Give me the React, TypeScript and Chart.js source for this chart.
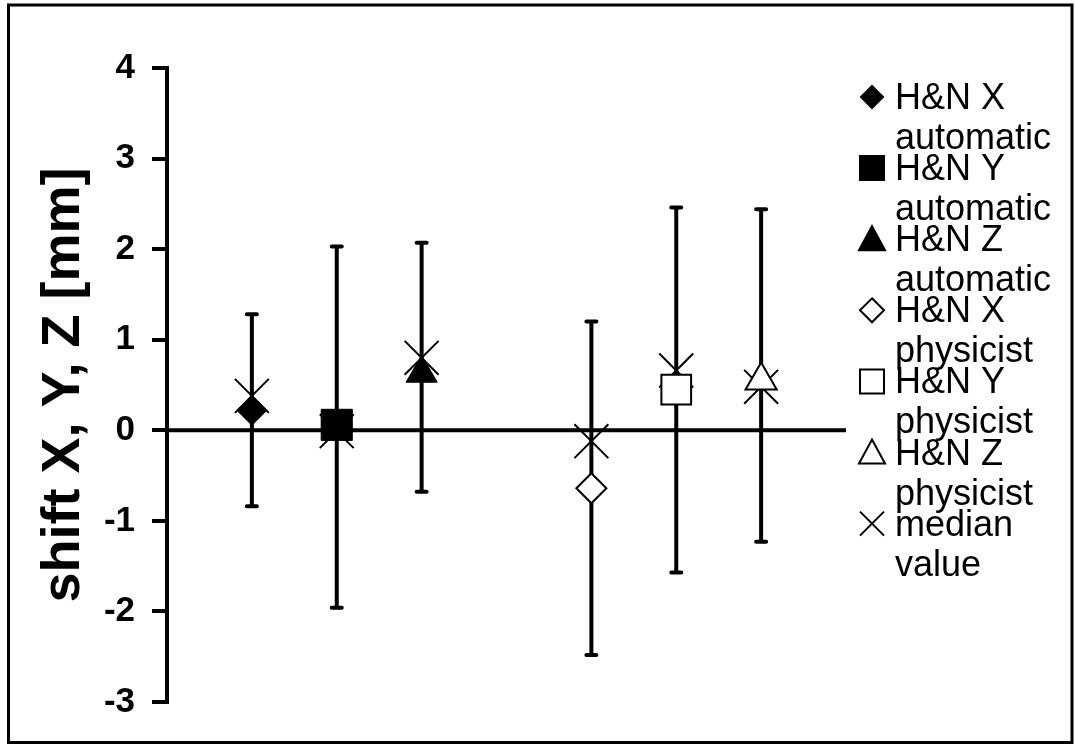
import React, { useEffect, useRef } from 'react';
import { Chart, registerables } from 'chart.js';

Chart.register(...registerables);

const FONT = "'Liberation Sans', Arial, Helvetica, sans-serif";

// ---- data ----
const seriesLabels = [
  'H&N X automatic',
  'H&N Y automatic',
  'H&N Z automatic',
  'H&N X physicist',
  'H&N Y physicist',
  'H&N Z physicist',
];
const categoryPositions = [1, 2, 3, 5, 6, 7];
const meanValues = [0.22, 0.06, 0.63, -0.64, 0.45, 0.55];
const errorHigh = [1.28, 2.03, 2.07, 1.2, 2.46, 2.44];
const errorLow = [-0.84, -1.96, -0.68, -2.48, -1.57, -1.23];
const medianLabel = 'median value';
const medianValues = [0.38, -0.01, 0.8, -0.12, 0.66, 0.48];
const yTickLabels = ['-3', '-2', '-1', '0', '1', '2', '3', '4'];
const yTickValues = [-3, -2, -1, 0, 1, 2, 3, 4];

// ---- styles ----
const seriesPointStyles = ['rectRot', 'rect', 'triangle', 'rectRot', 'rect', 'triangle'];
const seriesFilled = [true, true, true, false, false, false];
const seriesRadius = [15, 22, 18, 15, 21, 18];
const legendKinds = ['diamond', 'square', 'triangle', 'diamond', 'square', 'triangle', 'cross'];
const legendFilled = [true, true, true, false, false, false, false];

function drawLegendMarker(ctx: CanvasRenderingContext2D, kind: string, filled: boolean, cx: number, cy: number) {
  ctx.save();
  ctx.strokeStyle = '#000';
  ctx.fillStyle = filled ? '#000' : '#fff';
  ctx.lineWidth = 2;
  ctx.beginPath();
  if (kind === 'diamond') {
    const h = filled ? 11 : 12;
    ctx.moveTo(cx, cy - h);
    ctx.lineTo(cx + h, cy);
    ctx.lineTo(cx, cy + h);
    ctx.lineTo(cx - h, cy);
    ctx.closePath();
  } else if (kind === 'square') {
    ctx.rect(cx - 12, cy - 12, 24, 24);
  } else if (kind === 'triangle') {
    ctx.moveTo(cx, cy - 13);
    ctx.lineTo(cx + 13, cy + 11);
    ctx.lineTo(cx - 13, cy + 11);
    ctx.closePath();
  } else {
    ctx.moveTo(cx - 12, cy - 12);
    ctx.lineTo(cx + 12, cy + 12);
    ctx.moveTo(cx + 12, cy - 12);
    ctx.lineTo(cx - 12, cy + 12);
  }
  if (kind !== 'cross') ctx.fill();
  ctx.stroke();
  ctx.restore();
}

const errorBarPlugin = {
  id: 'errorBars',
  beforeDatasetsDraw(chart: any) {
    const { ctx, chartArea, scales } = chart;
    const xs = scales.x;
    const ys = scales.y;
    ctx.save();
    ctx.strokeStyle = '#000';
    // zero line
    const zy = ys.getPixelForValue(0);
    ctx.lineWidth = 4;
    ctx.beginPath();
    ctx.moveTo(chartArea.left, zy);
    ctx.lineTo(chartArea.right, zy);
    ctx.stroke();
    categoryPositions.forEach((cx, i) => {
      const px = xs.getPixelForValue(cx);
      const top = ys.getPixelForValue(errorHigh[i]);
      const bot = ys.getPixelForValue(errorLow[i]);
      ctx.lineWidth = 4;
      ctx.lineCap = 'butt';
      ctx.beginPath();
      ctx.moveTo(px, top);
      ctx.lineTo(px, bot);
      ctx.stroke();
      ctx.lineCap = 'round';
      ctx.beginPath();
      ctx.moveTo(px - 5, top);
      ctx.lineTo(px + 5, top);
      ctx.moveTo(px - 5, bot);
      ctx.lineTo(px + 5, bot);
      ctx.stroke();
    });
    ctx.restore();
  },
};

const legendAndFramePlugin = {
  id: 'legendAndFrame',
  afterDraw(chart: any) {
    const { ctx } = chart;
    const labels = chart.data.datasets.map((d: any) => d.label as string);
    ctx.save();
    ctx.fillStyle = '#000';
    ctx.font = `36px ${FONT}`;
    ctx.textBaseline = 'alphabetic';
    ctx.textAlign = 'left';
    labels.forEach((label: string, i: number) => {
      const baseline = 109 + 71.1 * i;
      const cut = label.lastIndexOf(' ');
      const line1 = label.slice(0, cut);
      const line2 = label.slice(cut + 1);
      drawLegendMarker(ctx, legendKinds[i], legendFilled[i], 872, baseline - 12);
      ctx.fillStyle = '#000';
      ctx.fillText(line1, 895, baseline);
      ctx.fillText(line2, 895, baseline + 40);
    });
    // outer frame
    ctx.strokeStyle = '#000';
    ctx.lineWidth = 3;
    ctx.strokeRect(8.5, 5, 1063.5, 737.5);
    ctx.restore();
  },
};

export default function App() {
  const canvasRef = useRef<HTMLCanvasElement | null>(null);

  useEffect(() => {
    const canvas = canvasRef.current;
    if (!canvas) return;

    const datasets: any[] = seriesLabels.map((label, i) => ({
      label,
      data: [{ x: categoryPositions[i], y: meanValues[i] }],
      pointStyle: seriesPointStyles[i],
      pointRadius: seriesRadius[i],
      pointBackgroundColor: seriesFilled[i] ? '#000' : '#fff',
      pointBorderColor: '#000',
      pointBorderWidth: seriesFilled[i] ? 1 : 2,
      showLine: false,
      order: 0,
    }));
    datasets.push({
      label: medianLabel,
      data: categoryPositions.map((x, i) => ({ x, y: medianValues[i] })),
      pointStyle: 'crossRot',
      pointRadius: 24,
      pointBorderColor: '#000',
      pointBorderWidth: 2,
      showLine: false,
      order: 1,
    });

    const chart = new Chart(canvas, {
      type: 'scatter',
      data: { datasets },
      options: {
        animation: false,
        responsive: false,
        devicePixelRatio: 1,
        layout: { padding: { left: 0, right: 229, top: 68, bottom: 43 } },
        plugins: {
          legend: { display: false },
          tooltip: { enabled: false },
        },
        scales: {
          x: {
            type: 'linear',
            min: 0,
            max: 8,
            display: false,
          },
          y: {
            type: 'linear',
            min: -3,
            max: 4,
            afterFit: (s: any) => {
              s.width = 167;
            },
            afterBuildTicks: (s: any) => {
              s.ticks = yTickValues.map((v) => ({ value: v }));
            },
            border: { display: true, width: 4, color: '#000' },
            grid: {
              display: true,
              drawOnChartArea: false,
              drawTicks: true,
              tickLength: 15,
              lineWidth: 4,
              color: '#000',
            },
            ticks: {
              padding: 17,
              color: '#000',
              font: { family: FONT, size: 35, weight: 'bold' },
              callback: (v: any) => yTickLabels[yTickValues.indexOf(Number(v))] ?? '',
            },
            title: {
              display: true,
              text: 'shift X, Y, Z [mm]',
              color: '#000',
              font: { family: FONT, size: 54, weight: 'bold' },
              padding: { top: 32, bottom: 0 },
            },
          },
        },
      },
      plugins: [errorBarPlugin, legendAndFramePlugin],
    } as any);

    return () => {
      chart.destroy();
    };
  }, []);

  return (
    <div style={{ position: 'fixed', left: 0, top: 0, width: 1075, height: 745, background: '#fff' }}>
      <canvas ref={canvasRef} width={1075} height={745} style={{ width: 1075, height: 745, display: 'block' }} />
    </div>
  );
}
